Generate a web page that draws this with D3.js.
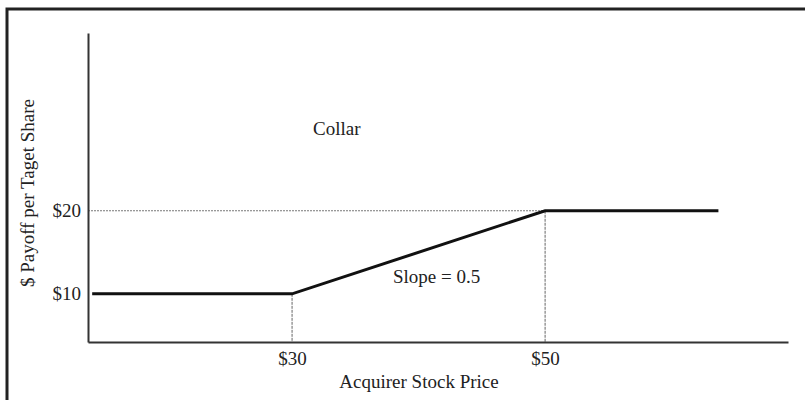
<!DOCTYPE html>
<html>
<head>
<meta charset="utf-8">
<script src="https://cdn.jsdelivr.net/npm/d3@7"></script>
<style>
  body { margin: 0; background: #fff; }
  text { font-family: "Liberation Serif", "DejaVu Serif", serif; fill: #222; }
</style>
</head>
<body>
<svg id="vis" width="805" height="400"></svg>
<script>
// payoff of the collar: stock price -> $ per target share
const prices = [14.2, 30, 50, 63.7]
const payoffs = [10, 10, 20, 20]
const xTicks = [30, 50]
const yTicks = [10, 20]
const tickLabel = d => '$' + d

const svg = d3.select('#vis')

// outer frame (only top and left visible in the picture)
svg.append('path')
    .attr('d', 'M7,400 V9 H805')
    .attr('fill', 'none')
    .attr('stroke', '#222')
    .attr('stroke-width', 3)

const x = d3.scaleLinear().domain([13.87, 69.2]).range([88, 788])
const y = d3.scaleLinear().domain([4.2, 41.4]).range([342, 33])

// guide lines
svg.append('line')
    .attr('x1', x.range()[0]).attr('x2', x(50))
    .attr('y1', y(20)).attr('y2', y(20))
    .attr('stroke', '#777').attr('stroke-width', 1)
    .attr('stroke-dasharray', '2,1')

svg.selectAll('.vguide')
    .data(xTicks)
    .enter().append('line')
    .attr('class', 'vguide')
    .attr('x1', d => x(d)).attr('x2', d => x(d))
    .attr('y1', (d, i) => y(payoffs[i + 1]))
    .attr('y2', y.range()[0])
    .attr('stroke', '#666').attr('stroke-width', 1)
    .attr('stroke-dasharray', '3,1')

// axes
const xAxis = d3.axisBottom(x).tickValues(xTicks).tickFormat(tickLabel).tickSize(0).tickPadding(10)
const yAxis = d3.axisLeft(y).tickValues(yTicks).tickFormat(tickLabel).tickSize(0).tickPadding(7)

svg.append('g')
    .attr('transform', 'translate(0,' + y.range()[0] + ')')
    .call(xAxis)
    .call(g => g.select('.domain').attr('stroke', '#333').attr('stroke-width', 2))
    .selectAll('text')
        .style('font-size', '19px')
        .style('font-family', '"Liberation Serif", serif')
        .attr('fill', '#222')

svg.append('g')
    .attr('transform', 'translate(' + x.range()[0] + ',0)')
    .call(yAxis)
    .call(g => g.select('.domain').attr('stroke', '#333').attr('stroke-width', 2))
    .selectAll('text')
        .style('font-size', '19px')
        .style('font-family', '"Liberation Serif", serif')
        .attr('fill', '#222')

// payoff line
const line = d3.line()
    .x((d, i) => x(prices[i]))
    .y(d => y(d))

svg.append('path')
    .datum(payoffs)
    .attr('d', line)
    .attr('fill', 'none')
    .attr('stroke', '#111')
    .attr('stroke-width', 3)

// labels
svg.append('text')
    .attr('x', 313).attr('y', 135)
    .style('font-size', '19px')
    .text('Collar')

svg.append('text')
    .attr('x', 393).attr('y', 283)
    .style('font-size', '19px')
    .text('Slope = 0.5')

svg.append('text')
    .attr('x', 419).attr('y', 388)
    .attr('text-anchor', 'middle')
    .style('font-size', '19px')
    .text('Acquirer Stock Price')

svg.append('text')
    .attr('transform', 'translate(34,193) rotate(-90)')
    .attr('text-anchor', 'middle')
    .style('font-size', '19px')
    .text('$ Payoff per Taget Share')
</script>
</body>
</html>
